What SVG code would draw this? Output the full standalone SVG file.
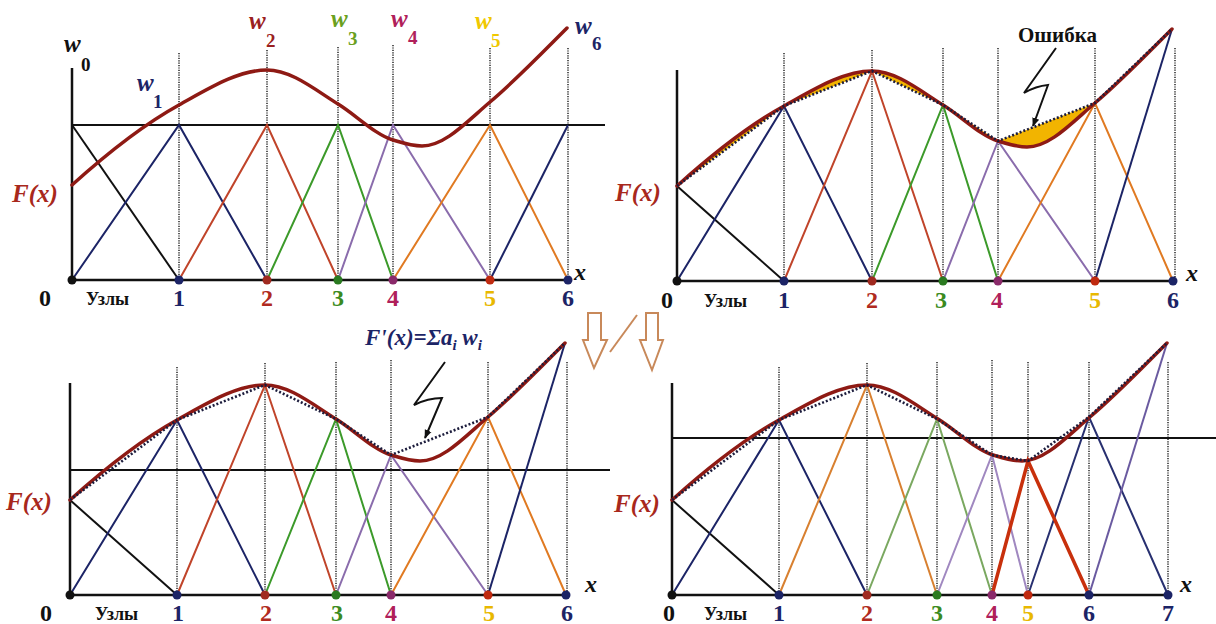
<svg xmlns="http://www.w3.org/2000/svg" width="1216" height="624" viewBox="0 0 1216 624">
<style>
.ax{stroke:#111;stroke-width:2.5;fill:none}
.hl{stroke:#111;stroke-width:2;fill:none}
.vd{stroke:#333;stroke-width:1.6;stroke-dasharray:1.2 1.2;fill:none}
.h{fill:none;stroke-width:2}
.cv{fill:none;stroke:#8e1a14;stroke-width:3.5;stroke-linecap:round}
.ch{fill:none;stroke:#1c1c3c;stroke-width:2.6;stroke-dasharray:2 2}
text{font-family:"Liberation Serif","Times New Roman",serif;font-weight:bold}
.num{font-size:24px;text-anchor:middle}
.uz{font-size:18px}
.fx{font-size:25px;font-style:italic;fill:#a8281c}
.xl{font-size:24px;font-style:italic;fill:#111}
.w{font-size:25px;font-style:italic}
.sub{font-size:19px;font-style:normal}
.k{stroke:#111}.n{stroke:#1c2466}.r{stroke:#c0442a}.g{stroke:#3c9a2a}.p{stroke:#8a6cac}.o{stroke:#e07a22}
.zig{fill:none;stroke:#111;stroke-width:2}
.arr{fill:#fff;stroke:#c8895a;stroke-width:2}
</style>
<defs>
<path id="curve" d="M72,185 C108,152.6 143,124.8 179,105 C208,89 238,70 267,70 C291,70 314,89 338,104 C356,115 375,134.6 393,140 C403,143 412,146 422,146 C445,146 467,121.5 490,102 C516,80 541,54 567,28"/>
<path id="lens" d="M72,185 C108,152.6 143,124.8 179,105 C208,89 238,70 267,70 C291,70 314,89 338,104 C356,115 375,134.6 393,140 C403,143 412,146 422,146 C445,146 467,121.5 490,102 C516,80 541,54 567,28 L490,102 L393,140 L338,104 L267,70 L179,105 Z"/>
<marker id="ah" viewBox="0 0 10 10" refX="9" refY="5" markerWidth="9" markerHeight="9" orient="auto" markerUnits="userSpaceOnUse"><path d="M0,1 L10,5 L0,9 Z" fill="#111"/></marker>
</defs>

<!-- Panel 1 -->
<g id="panel1">
<g id="p1-grid">
<path class="vd" d="M179,53V280M267,50V280M338,47V280M393,45V280M490,48V280M568,48V280"/>
<path class="hl" d="M72,125H605"/>
</g>
<g id="p1-hats">
<path class="h k" d="M72,125L179,280"/>
<path class="h n" d="M72,280L179,125L267,280"/>
<path class="h r" d="M179,280L267,125L338,280"/>
<path class="h g" d="M267,280L338,125L393,280"/>
<path class="h p" d="M338,280L393,125L490,280"/>
<path class="h o" d="M393,280L490,125L568,280"/>
<path class="h n" d="M490,280L568,125"/>
</g>
<path class="ax" d="M72,68V280H570"/>
<use href="#curve" class="cv"/>
<g id="p1-dots">
<circle cx="72" cy="280" r="4.5" fill="#111"/><circle cx="179" cy="280" r="4.5" fill="#1c2466"/><circle cx="267" cy="280" r="4.5" fill="#a02a20"/><circle cx="338" cy="280" r="4.5" fill="#2a7a20"/><circle cx="393" cy="280" r="4.5" fill="#8a2a6a"/><circle cx="490" cy="280" r="4.5" fill="#c02a10"/><circle cx="568" cy="280" r="4.5" fill="#1c2466"/>
</g>
<g id="p1-labels" font-family="Liberation Serif, serif" font-weight="bold">
<text class="w" x="64" y="52" fill="#111">w</text><text class="sub" x="81" y="71" fill="#111">0</text>
<text class="w" x="137" y="91" fill="#1c2466">w</text><text class="sub" x="153" y="108" fill="#1c2466">1</text>
<text class="w" x="249" y="29" fill="#9a2020">w</text><text class="sub" x="266" y="47" fill="#9a2020">2</text>
<text class="w" x="331" y="27" fill="#6aa020">w</text><text class="sub" x="348" y="45" fill="#6aa020">3</text>
<text class="w" x="391" y="27" fill="#b0205a">w</text><text class="sub" x="408" y="44" fill="#b0205a">4</text>
<text class="w" x="475" y="29" fill="#f0c800">w</text><text class="sub" x="491" y="47" fill="#f0c800">5</text>
<text class="w" x="575" y="34" fill="#1c2466">w</text><text class="sub" x="592" y="50" fill="#1c2466">6</text>
<text class="fx" x="12" y="202">F(x)</text>
<text class="xl" x="574" y="280">x</text>
<text class="num" x="45" y="306" fill="#111">0</text>
<text class="uz" x="86" y="305" fill="#111">Узлы</text>
<text class="num" x="179" y="306" fill="#1c2466">1</text>
<text class="num" x="267" y="306" fill="#b02a20">2</text>
<text class="num" x="338" y="306" fill="#3a8a20">3</text>
<text class="num" x="393" y="306" fill="#b0205a">4</text>
<text class="num" x="490" y="306" fill="#e8b800">5</text>
<text class="num" x="568" y="306" fill="#1c2466">6</text>
</g>
</g>

<!-- Panel 2 -->
<g id="panel2">
<g transform="translate(605,1)">
<path class="vd" d="M179,52V280M267,49V280M338,47V280M393,47V280M490,47V280M570,47V280"/>
<path class="h k" d="M72,185L179,280"/>
<path class="h n" d="M72,280L179,105L267,280"/>
<path class="h r" d="M179,280L267,70L338,280"/>
<path class="h g" d="M267,280L338,104L393,280"/>
<path class="h p" d="M338,280L393,140L490,280"/>
<path class="h o" d="M393,280L490,102L568,280"/>
<path class="h n" d="M490,280L567,28"/>
<path class="ax" d="M72,69V280H570"/>
<use href="#lens" fill="#f2b400"/>
<use href="#curve" class="cv"/>
<path class="ch" d="M72,185L179,105L267,70L338,104L393,140L490,102L567,28"/>
<circle cx="72" cy="280" r="4.5" fill="#111"/><circle cx="179" cy="280" r="4.5" fill="#1c2466"/><circle cx="267" cy="280" r="4.5" fill="#a02a20"/><circle cx="338" cy="280" r="4.5" fill="#2a7a20"/><circle cx="393" cy="280" r="4.5" fill="#8a2a6a"/><circle cx="490" cy="280" r="4.5" fill="#c02a10"/><circle cx="568" cy="280" r="4.5" fill="#1c2466"/>
</g>
<path class="zig" d="M1056,48L1024,93Q1036,86 1048,85L1033,126" marker-end="url(#ah)"/>
<g font-family="Liberation Serif, serif" font-weight="bold">
<text x="1018" y="42" font-size="21" fill="#111">Ошибка</text>
<text class="fx" x="615" y="201">F(x)</text>
<text class="xl" x="1186" y="281">x</text>
<text class="num" x="667" y="308" fill="#111">0</text>
<text class="uz" x="704" y="307" fill="#111">Узлы</text>
<text class="num" x="784" y="308" fill="#1c2466">1</text>
<text class="num" x="872" y="308" fill="#b02a20">2</text>
<text class="num" x="941" y="308" fill="#3a8a20">3</text>
<text class="num" x="997" y="308" fill="#b0205a">4</text>
<text class="num" x="1095" y="308" fill="#e8b800">5</text>
<text class="num" x="1173" y="308" fill="#1c2466">6</text>
</g>
</g>

<!-- Middle arrows -->
<g id="arrows">
<path class="arr" d="M588,313H601V340H607L594,368L583,340H588Z"/>
<path class="arr" d="M646,313H658V340H663L652,370L640,340H646Z"/>
<path d="M610,352L637,315" stroke="#c8895a" stroke-width="2"/>
</g>

<!-- Panel 3 -->
<g id="panel3">
<g transform="translate(-2,315)">
<path class="vd" d="M179,52V280M267,48V280M338,47V280M393,45V280M490,47V280M569,47V280"/>
<path class="hl" d="M72,155H612"/>
<path class="h k" d="M72,185L179,280"/>
<path class="h n" d="M72,280L179,105L267,280"/>
<path class="h r" d="M179,280L267,70L338,280"/>
<path class="h g" d="M267,280L338,104L393,280"/>
<path class="h p" d="M338,280L393,140L490,280"/>
<path class="h o" d="M393,280L490,102L568,280"/>
<path class="h n" d="M490,280L567,28"/>
<path class="ax" d="M72,68V280H570"/>
<use href="#curve" class="cv"/>
<path class="ch" d="M72,185L179,105L267,70L338,104L393,140L490,102L567,28"/>
<circle cx="72" cy="280" r="4.5" fill="#111"/><circle cx="179" cy="280" r="4.5" fill="#1c2466"/><circle cx="267" cy="280" r="4.5" fill="#a02a20"/><circle cx="338" cy="280" r="4.5" fill="#2a7a20"/><circle cx="393" cy="280" r="4.5" fill="#8a2a6a"/><circle cx="490" cy="280" r="4.5" fill="#c02a10"/><circle cx="568" cy="280" r="4.5" fill="#1c2466"/>
</g>
<path class="zig" d="M445,362L414,405Q428,398 442,398L425,438" marker-end="url(#ah)"/>
<g font-family="Liberation Serif, serif" font-weight="bold">
<text x="365" y="345" font-size="23" font-style="italic" fill="#1c2466">F'(x)=Σa<tspan font-size="15" dy="5">i</tspan><tspan dy="-5"> w</tspan><tspan font-size="15" dy="5">i</tspan></text>
<text class="fx" x="6" y="510">F(x)</text>
<text class="xl" x="585" y="592">x</text>
<text class="num" x="46" y="621" fill="#111">0</text>
<text class="uz" x="95" y="620" fill="#111">Узлы</text>
<text class="num" x="178" y="621" fill="#1c2466">1</text>
<text class="num" x="266" y="621" fill="#b02a20">2</text>
<text class="num" x="337" y="621" fill="#3a8a20">3</text>
<text class="num" x="391" y="621" fill="#b0205a">4</text>
<text class="num" x="489" y="621" fill="#e8b800">5</text>
<text class="num" x="567" y="621" fill="#1c2466">6</text>
</g>
</g>

<!-- Panel 4 -->
<g id="panel4">
<g transform="translate(600,315)">
<path class="vd" d="M179,52V280M267,48V280M337,47V280M392,45V280M428,47V280M489,47V280M568,47V280"/>
<path class="hl" d="M72,123H616"/>
<path class="h k" d="M72,185L179,280"/>
<path class="h n" d="M72,280L179,105L267,280"/>
<path class="h" stroke="#d88030" d="M179,280L267,70L337,280"/>
<path class="h" stroke="#7aa860" d="M267,280L337,104L392,280"/>
<path class="h" stroke="#a088c0" d="M337,280L392,140L428,280"/>
<path class="h" stroke="#283070" d="M428,280L489,102L568,280"/>
<path class="h" stroke="#6a5aa0" d="M489,280L567,28"/>
<path fill="none" stroke="#c8300c" stroke-width="3.5" d="M392,280L428,146L489,280"/>
<path class="ax" d="M72,68V280H570"/>
<use href="#curve" class="cv"/>
<path class="ch" d="M72,185L179,105L267,70L337,104L392,140L428,146L489,102L567,28"/>
<circle cx="72" cy="280" r="4.5" fill="#111"/><circle cx="179" cy="280" r="4.5" fill="#1c2466"/><circle cx="267" cy="280" r="4.5" fill="#a02a20"/><circle cx="337" cy="280" r="4.5" fill="#2a7a20"/><circle cx="392" cy="280" r="4.5" fill="#8a2a6a"/><circle cx="428" cy="280" r="4.5" fill="#c02a10"/><circle cx="489" cy="280" r="4.5" fill="#1c2466"/><circle cx="568" cy="280" r="4.5" fill="#1c2466"/>
</g>
<g font-family="Liberation Serif, serif" font-weight="bold">
<text class="fx" x="614" y="512">F(x)</text>
<text class="xl" x="1180" y="592">x</text>
<text class="num" x="669" y="621" fill="#111">0</text>
<text class="uz" x="704" y="620" fill="#111">Узлы</text>
<text class="num" x="779" y="621" fill="#1c2466">1</text>
<text class="num" x="867" y="621" fill="#b02a20">2</text>
<text class="num" x="937" y="621" fill="#3a8a20">3</text>
<text class="num" x="992" y="621" fill="#b0205a">4</text>
<text class="num" x="1028" y="621" fill="#e8b800">5</text>
<text class="num" x="1089" y="621" fill="#1c2466">6</text>
<text class="num" x="1168" y="621" fill="#1c2466">7</text>
</g>
</g>
</svg>
